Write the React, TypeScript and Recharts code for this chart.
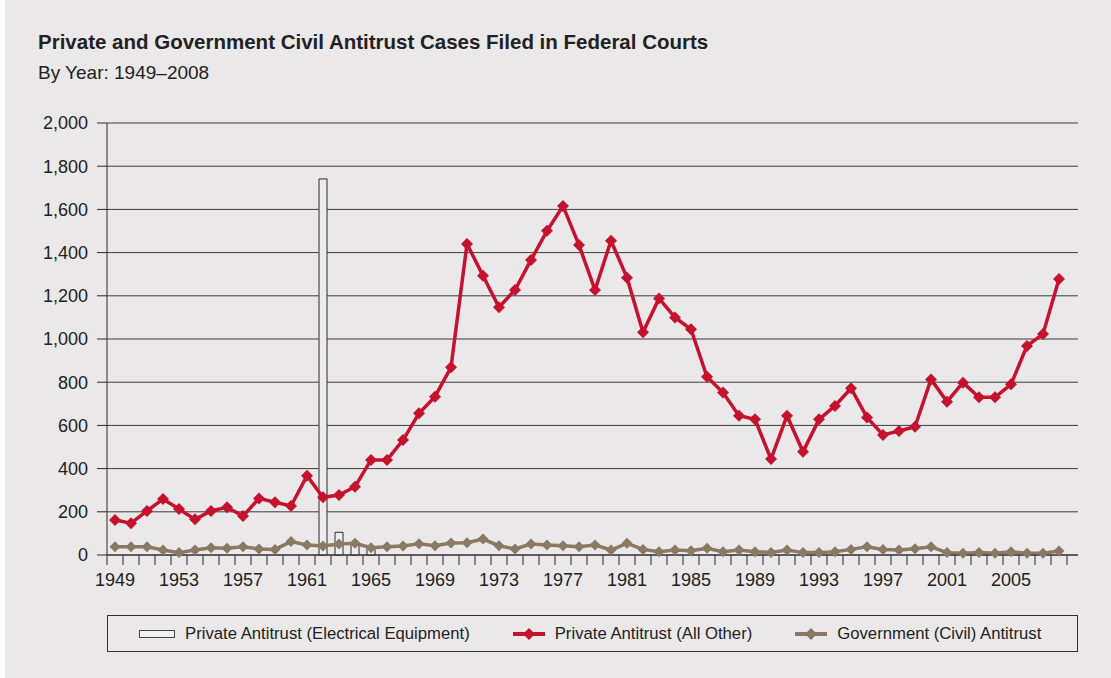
import { ComposedChart, Bar, Line, XAxis, YAxis, CartesianGrid } from 'recharts';

const YEARS = [
  1949, 1950, 1951, 1952, 1953, 1954, 1955, 1956, 1957, 1958,
  1959, 1960, 1961, 1962, 1963, 1964, 1965, 1966, 1967, 1968,
  1969, 1970, 1971, 1972, 1973, 1974, 1975, 1976, 1977, 1978,
  1979, 1980, 1981, 1982, 1983, 1984, 1985, 1986, 1987, 1988,
  1989, 1990, 1991, 1992, 1993, 1994, 1995, 1996, 1997, 1998,
  1999, 2000, 2001, 2002, 2003, 2004, 2005, 2006, 2007, 2008,
];

const PRIVATE_OTHER = [
  162, 147, 204, 259, 213, 165, 204, 221, 180, 262,
  244, 227, 367, 267, 278, 316, 440, 440, 532, 656,
  733, 869, 1440, 1293, 1147, 1227, 1366, 1501, 1616, 1435,
  1227, 1455, 1284, 1031, 1188, 1100, 1045, 825, 752, 645,
  628, 444, 645, 478, 628, 690, 772, 637, 556, 574,
  594, 813, 710, 798, 730, 730, 790, 968, 1023, 1278,
];

const GOVERNMENT = [
  38, 38, 38, 23, 11, 23, 34, 31, 38, 28,
  26, 62, 46, 42, 51, 54, 34, 38, 42, 52,
  43, 55, 57, 74, 43, 28, 51, 46, 43, 38,
  46, 23, 54, 26, 15, 23, 20, 31, 15, 23,
  15, 12, 23, 11, 11, 15, 26, 38, 26, 23,
  29, 38, 11, 8, 11, 8, 15, 8, 8, 19,
];

// electrical equipment conspiracy cases only show up 1962-65
const ELEC_YEARS = [1962, 1963, 1964, 1965];
const ELEC = [1741, 105, 50, 33];

const Y_TICKS = [0, 200, 400, 600, 800, 1000, 1200, 1400, 1600, 1800, 2000];
const LABEL_YEARS = [1949, 1953, 1957, 1961, 1965, 1969, 1973, 1977, 1981, 1985, 1989, 1993, 1997, 2001, 2005];
const BOUNDARIES = [...YEARS.map(y => y - 0.5), YEARS[YEARS.length - 1] + 0.5];

const RED = '#C4122F';
const TAUPE = '#8A7A64';
const INK = '#2b2b2b';
const FONT = '"Liberation Sans", Arial, Helvetica, sans-serif';

const data = YEARS.map((year, i) => {
  const k = ELEC_YEARS.indexOf(year);
  return {
    year,
    elec: k >= 0 ? ELEC[k] : null,
    other: PRIVATE_OTHER[i],
    gov: GOVERNMENT[i],
  };
});

const diamond = (color: string, r: number) => (props: any) => {
  const { cx, cy, index } = props;
  if (cx == null || cy == null) return <g key={index} />;
  return (
    <path
      key={index}
      d={`M${cx},${cy - r}L${cx + r},${cy}L${cx},${cy + r}L${cx - r},${cy}Z`}
      fill={color}
    />
  );
};

function LegendIcon({ kind }: { kind: 'bar' | 'red' | 'gov' }) {
  if (kind === 'bar') {
    return (
      <svg width={36} height={10}>
        <rect x={0.5} y={1.5} width={35} height={7} fill="#F2F1F1" stroke="#444" />
      </svg>
    );
  }
  const c = kind === 'red' ? RED : TAUPE;
  return (
    <svg width={32} height={14}>
      <line x1={0} y1={7} x2={32} y2={7} stroke={c} strokeWidth={4} />
      <path d="M16,1L22,7L16,13L10,7Z" fill={c} />
    </svg>
  );
}

export default function App() {
  const items: { kind: 'bar' | 'red' | 'gov'; label: string }[] = [
    { kind: 'bar', label: 'Private Antitrust (Electrical Equipment)' },
    { kind: 'red', label: 'Private Antitrust (All Other)' },
    { kind: 'gov', label: 'Government (Civil) Antitrust' },
  ];

  return (
    <div style={{ position: 'fixed', left: 0, top: 0, width: 1111, height: 678, background: '#EAE8E9', overflow: 'hidden' }}>
      <div style={{ position: 'absolute', left: 0, top: 0, width: 5, bottom: 0, background: '#fff' }} />

      <div
        style={{
          position: 'absolute', left: 38, top: 30, fontFamily: FONT,
          fontWeight: 700, fontSize: 20.5, color: '#222', whiteSpace: 'nowrap',
        }}
      >
        Private and Government Civil Antitrust Cases Filed in Federal Courts
      </div>
      <div style={{ position: 'absolute', left: 38, top: 62, fontFamily: FONT, fontSize: 19, color: '#222', whiteSpace: 'nowrap' }}>
        By Year: 1949–2008
      </div>

      <div style={{ position: 'absolute', left: 0, top: 0 }}>
        <ComposedChart
          width={1111}
          height={678}
          data={data}
          margin={{ top: 123, right: 33, bottom: 83, left: 0 }}
          style={{ fontFamily: FONT }}
        >
          <CartesianGrid vertical={false} stroke="#3d3d3d" strokeWidth={1} />
          <XAxis
            dataKey="year"
            type="number"
            domain={[1948.5, 2009.1875]}
            ticks={BOUNDARIES}
            interval={0}
            height={10}
            tickSize={10}
            tick={() => <g />}
            axisLine={{ stroke: INK }}
            tickLine={{ stroke: INK }}
          />
          <XAxis
            xAxisId="labels"
            dataKey="year"
            type="number"
            domain={[1948.5, 2009.1875]}
            ticks={LABEL_YEARS}
            interval={0}
            height={30}
            tickSize={0}
            tickMargin={8}
            axisLine={false}
            tickLine={false}
            tick={{ fill: '#222', fontSize: 18 }}
          />
          <YAxis
            domain={[0, 2000]}
            ticks={Y_TICKS}
            interval={0}
            width={107}
            tickSize={10}
            tickMargin={9}
            axisLine={{ stroke: INK }}
            tickLine={{ stroke: INK }}
            tick={{ fill: '#222', fontSize: 18 }}
            tickFormatter={(v: number) => v.toLocaleString('en-US')}
          />
          <YAxis
            yAxisId="frame"
            orientation="right"
            domain={[0, 2000]}
            width={0}
            tick={false}
            tickLine={false}
            axisLine={{ stroke: '#858585', strokeWidth: 2 }}
          />
          <Bar dataKey="elec" barSize={8} fill="#EEEDED" stroke={INK} strokeWidth={1} isAnimationActive={false} />
          <Line
            dataKey="gov"
            stroke={TAUPE}
            strokeWidth={3.5}
            dot={diamond(TAUPE, 5.5)}
            activeDot={false}
            isAnimationActive={false}
          />
          <Line
            dataKey="other"
            stroke={RED}
            strokeWidth={3.5}
            dot={diamond(RED, 6)}
            activeDot={false}
            isAnimationActive={false}
          />
        </ComposedChart>
      </div>

      <div
        style={{
          position: 'absolute', left: 107, top: 615, width: 971, height: 37, boxSizing: 'border-box',
          border: '1px solid #333', display: 'flex', alignItems: 'center', paddingLeft: 31, gap: 43,
          fontFamily: FONT, fontSize: 16.7, color: '#222',
        }}
      >
        {items.map(it => (
          <div key={it.kind} style={{ display: 'flex', alignItems: 'center', gap: 10, whiteSpace: 'nowrap' }}>
            <LegendIcon kind={it.kind} />
            <span>{it.label}</span>
          </div>
        ))}
      </div>
    </div>
  );
}
